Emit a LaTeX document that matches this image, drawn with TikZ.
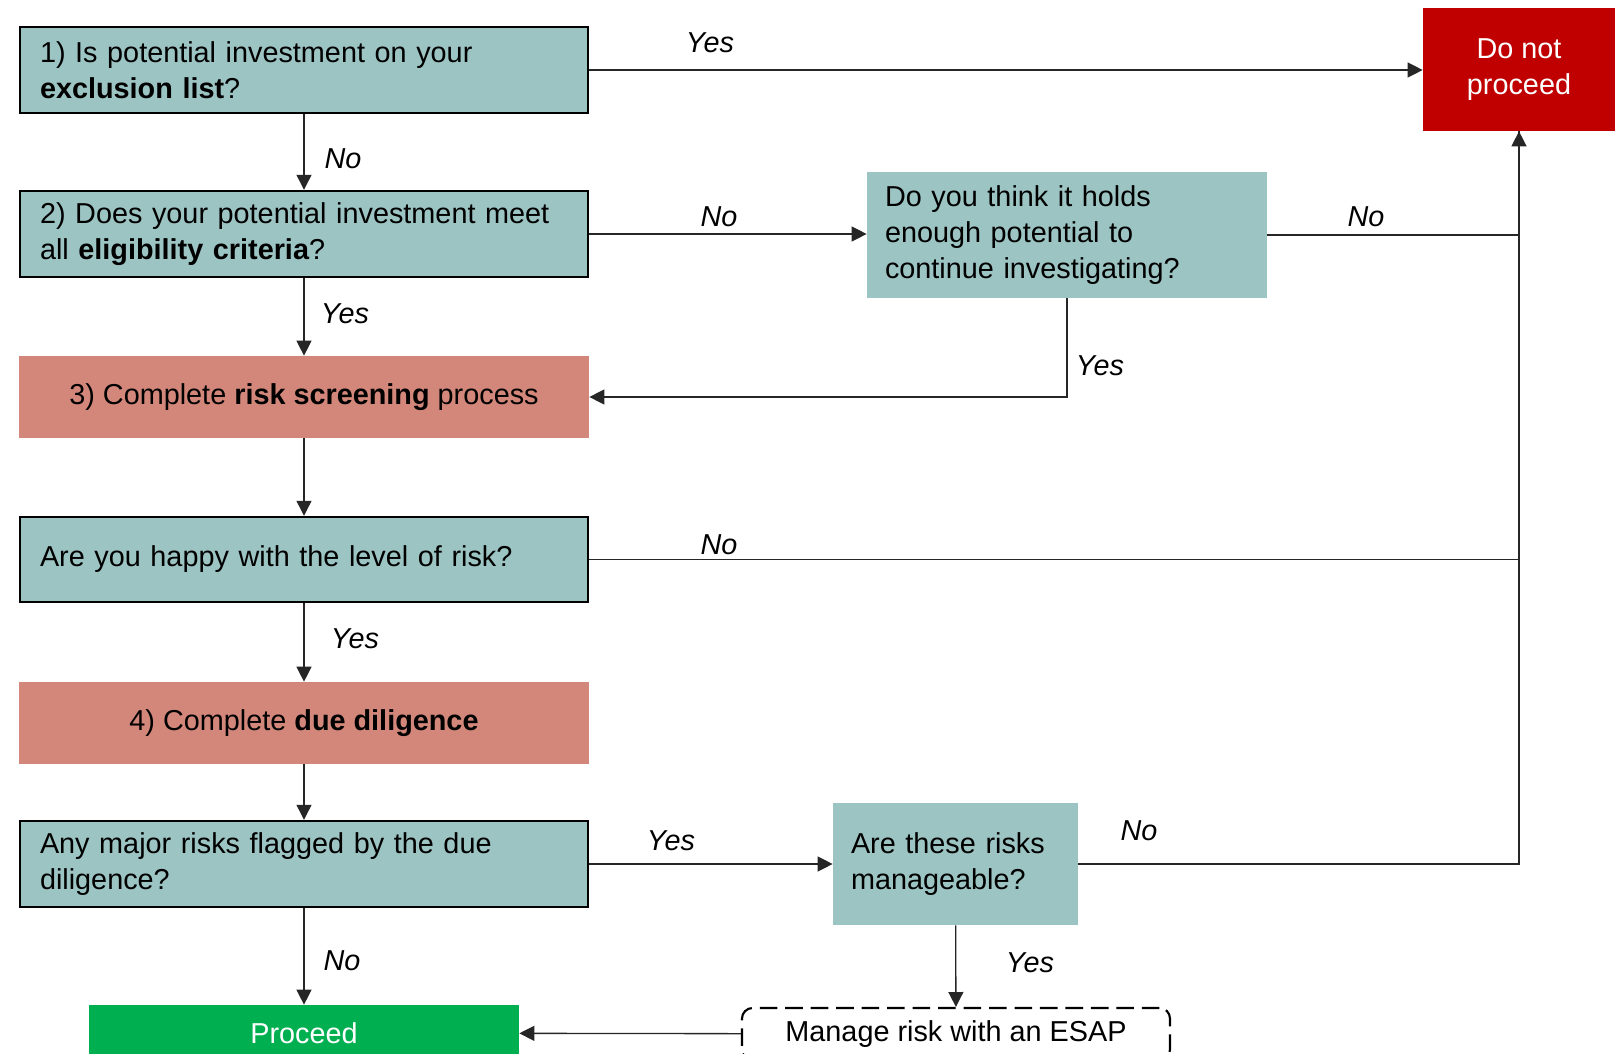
\documentclass[tikz,border=0pt]{standalone}
\usepackage{fontspec}
\setmainfont{Liberation Sans}
\usetikzlibrary{arrows.meta}
\definecolor{tealbox}{HTML}{9BC4C3}
\definecolor{salmon}{HTML}{D3877A}
\definecolor{stopred}{HTML}{C00000}
\definecolor{gogreen}{HTML}{00B050}
\definecolor{wire}{HTML}{262626}
\def\u{0.02cm}
\begin{document}
\begin{tikzpicture}[
  x=0.02cm, y=-0.02cm,
  every node/.style={font=\fontsize{16.4}{20.5}\selectfont, inner sep=0pt},
  question/.style={fill=tealbox, draw=black, line width=1.4pt, align=left,
    text width=528*\u, inner xsep=20*\u, minimum height=86*\u},
  softq/.style={fill=tealbox, align=left, inner xsep=18*\u},
  task/.style={fill=salmon, align=center, minimum width=570*\u, minimum height=82*\u},
  arr/.style={draw=wire, line width=0.75pt, -{Triangle[length=8.5pt,width=8.5pt]}},
  link/.style={draw=wire, line width=0.75pt},
  lbl/.style={font=\fontsize{16.4}{20.5}\selectfont\itshape}
]
\useasboundingbox (0,0) rectangle (1620,1054);
\clip (0,0) rectangle (1620,1054);
\fill[white] (0,0) rectangle (1620,1054);

% main column
\node[question] (b1) at (304,70) {1) Is potential investment on your\\\textbf{exclusion list}?};
\node[question] (b2) at (304,234) {2) Does your potential investment meet\\all \textbf{eligibility criteria}?};
\node[task] (b3) at (304,397) {3) Complete \textbf{risk screening} process};
\node[question, minimum height=85*\u] (b4) at (304,559.5) {Are you happy with the level of risk?};
\node[task] (b5) at (304,723) {4) Complete \textbf{due diligence}};
\node[question] (b6) at (304,864) {Any major risks flagged by the due\\diligence?};
\node[fill=gogreen, text=white, minimum width=430*\u, minimum height=56*\u] (proc) at (304,1033) {Proceed};

% side boxes
\node[fill=stopred, text=white, align=center, minimum width=192*\u, minimum height=123*\u] (dnp) at (1519,69.5) {Do not\\proceed};
\node[softq, text width=364*\u, minimum height=126*\u] (pot) at (1067,235) {Do you think it holds\\enough potential to\\continue investigating?};
\node[softq, text width=209*\u, minimum height=122*\u] (man) at (955.5,864) {Are these risks\\manageable?};
\node[draw=black, line width=1.2pt, dash pattern=on 10pt off 4.5pt, rounded corners=6pt,
  minimum width=428*\u, minimum height=52*\u] (esap) at (956,1034) {Manage risk with an ESAP};

% connectors
\draw[arr] (b1.east) -- (b1.east -| dnp.west);
\draw[arr] (b1) -- (b2);
\draw[arr] (b2.east) -- (b2.east -| pot.west);
\draw[arr] (b2) -- (b3);
\draw[arr] (pot.south) |- (b3.east);
\draw[arr] (pot.east) -| (dnp.south);
\draw[arr] (b3) -- (b4);
\draw[link] (b4.east) -- (b4.east -| dnp.south);
\draw[arr] (b4) -- (b5);
\draw[arr] (b5) -- (b6);
\draw[arr] (b6.east) -- (b6.east -| man.west);
\draw[link] (man.east) -| (dnp.south);
\draw[arr] (b6) -- (proc);
\draw[arr] (man) -- (esap);
\draw[arr] (esap) -- (proc);

% answers
\node[lbl] (l1) at (710,43) {Yes};
\node[lbl] (l2) at (343,159) {No};
\node[lbl] (l3) at (719,217) {No};
\node[lbl] (l4) at (345,314) {Yes};
\node[lbl] (l5) at (1100,366) {Yes};
\node[lbl] (l6) at (1366,217) {No};
\node[lbl] (l7) at (719,545) {No};
\node[lbl] (l8) at (355,639) {Yes};
\node[lbl] (l9) at (671,841) {Yes};
\node[lbl] (l10) at (1139,831) {No};
\node[lbl] (l11) at (342,961) {No};
\node[lbl] (l12) at (1030,963) {Yes};
\end{tikzpicture}
\end{document}
